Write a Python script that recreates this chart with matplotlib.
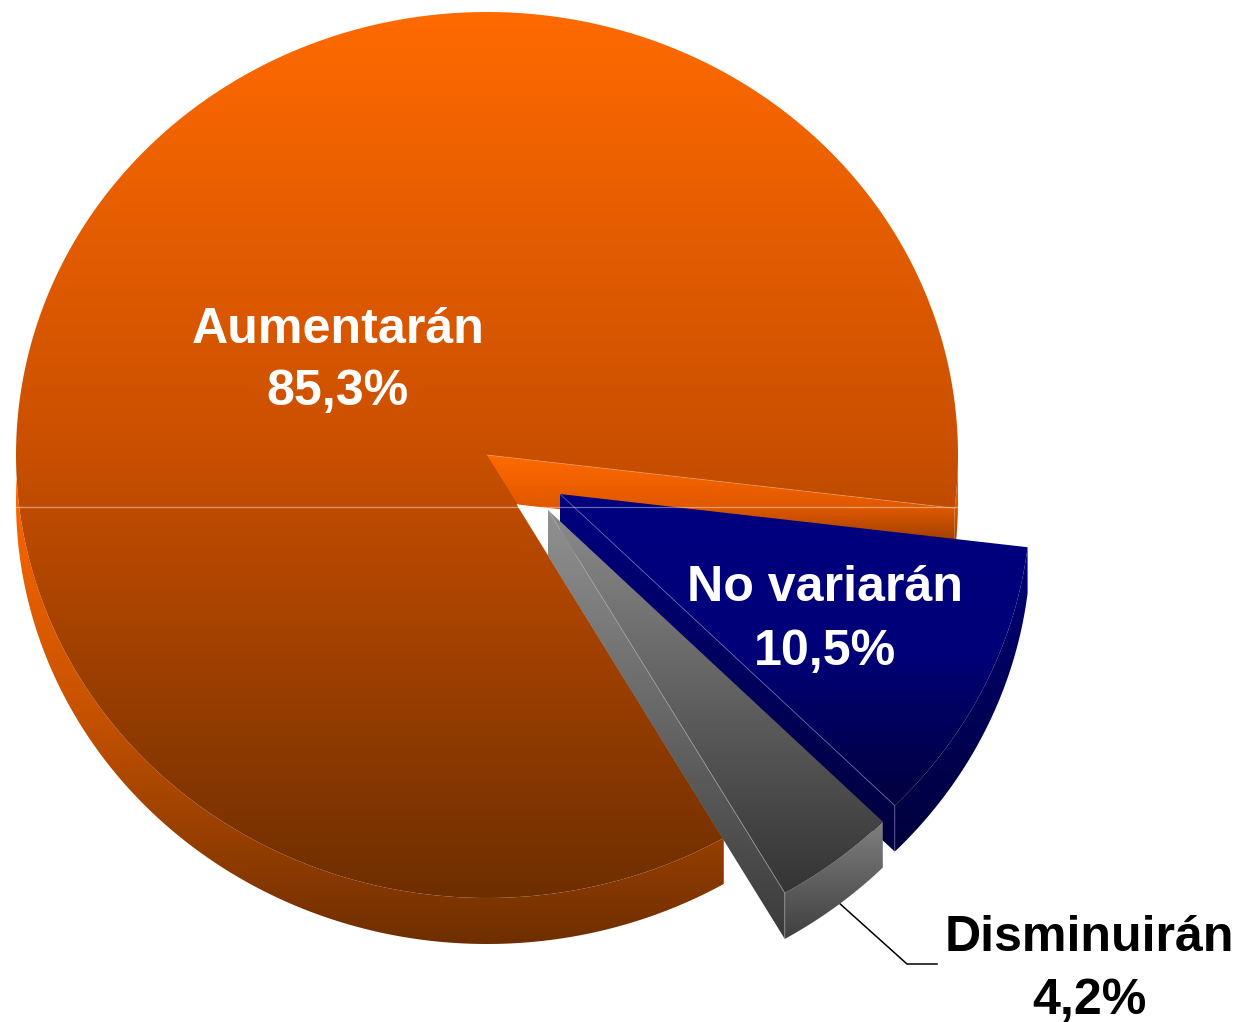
import numpy as np
import matplotlib
matplotlib.use("Agg")
import matplotlib.pyplot as plt
from matplotlib.colors import LinearSegmentedColormap
from matplotlib.patches import Polygon

# data
categories = ["Aumentarán", "No variarán", "Disminuirán"]
values = [85.3, 10.5, 4.2]
value_labels = ["85,3%", "10,5%", "4,2%"]

# geometry (pixels)
W, H = 1241, 1022
CX, CY, RX, RY = 487.0, 455.0, 471.0, 443.0
DEPTH = 46.0
START = -6.9
BLUE_SHIFT = (73.0, 39.0)
GREY_SHIFT = (61.0, 55.0)

plt.rcParams["font.family"] = ["Liberation Sans", "DejaVu Sans"]
fig = plt.figure(figsize=(W / 100, H / 100), dpi=100, facecolor="white")
ax = fig.add_axes([0, 0, 1, 1])
ax.set_axis_off()


def pt(t, shift=(0.0, 0.0), dy=0.0):
    r = np.radians(t)
    return np.array([CX + shift[0] + RX * np.cos(r), CY + shift[1] + dy - RY * np.sin(r)])


def arc(a, b, shift=(0.0, 0.0), dy=0.0):
    return np.array([pt(t, shift, dy) for t in np.linspace(a, b, 300)])


def grad(poly, y0, y1, stops, z):
    cmap = LinearSegmentedColormap.from_list("g", stops)
    poly = np.asarray(poly)
    patch = Polygon(poly, closed=True, transform=ax.transData, facecolor="none", edgecolor="none")
    ax.add_patch(patch)
    im = ax.imshow(np.linspace(0, 1, 512)[:, None], extent=(poly[:, 0].min() - 1, poly[:, 0].max() + 1, y1, y0),
                   cmap=cmap, aspect="auto", interpolation="bilinear", zorder=z, origin="upper")
    im.set_clip_path(patch)


def span(apex, ends):
    return np.vstack([apex, ends])


# slice angles from the values
orange_sweep = values[0] * 3.6
blue_sweep = values[1] * 3.6
grey_sweep = values[2] * 3.6
o0, o1 = START, START + orange_sweep          # orange runs counter-clockwise
b1, b0 = START, START - blue_sweep            # blue just below the start
g1, g0 = b0, b0 - grey_sweep                  # grey below blue

# ---------- orange ----------
apex = np.array([CX, CY])
down = np.array([0.0, DEPTH])
wall = np.array([apex, pt(o0), pt(o0) + down, apex + down])
grad(wall, 455, 560, ["#ff6a00", "#e05800", "#7a3200"], 1)
rim_r = np.vstack([arc(o0, 0.0), arc(0.0, o0, dy=DEPTH)])
grad(rim_r, 455, 560, ["#ff6a00", "#e05800", "#7a3200"], 1)
rim = np.vstack([arc(170, o1 % 360), arc(o1 % 360, 170, dy=DEPTH)])
grad(rim, 480, 946, ["#ff6800", "#c65200", "#6e2e00"], 2)
top = span(apex, arc(o0, o1))
grad(top, 12, 900, ["#ff6a00", "#c94f00", "#6e2e00"], 3)
ax.plot(*zip(apex, pt(o0)), color="#ffb080", lw=0.7, alpha=0.4, zorder=3.5)

# ---------- blue ----------
bapex = apex + BLUE_SHIFT
rim = np.vstack([arc(b0, b1, BLUE_SHIFT), arc(b1, b0, BLUE_SHIFT, DEPTH)])
grad(rim, 494, 851, ["#000080", "#00003c"], 4)
wall = np.array([bapex, pt(b0, BLUE_SHIFT), pt(b0, BLUE_SHIFT) + down, bapex + down])
grad(wall, 494, 851, ["#000080", "#00003c"], 4)
top = span(bapex, arc(b0, b1, BLUE_SHIFT))
grad(top, 494, 808, ["#000080", "#000078", "#00003c"], 5)
ax.plot(*zip(bapex, pt(b0, BLUE_SHIFT), pt(b0, BLUE_SHIFT) + down), color="#8080c8", lw=0.7, alpha=0.55, zorder=5.5)

# ---------- grey ----------
gapex = apex + GREY_SHIFT
wall = np.array([gapex, pt(g0, GREY_SHIFT), pt(g0, GREY_SHIFT) + down, gapex + down])
grad(wall, 505, 940, ["#929292", "#3a3a3a"], 6)
rim = np.vstack([arc(g0, g1, GREY_SHIFT), arc(g1, g0, GREY_SHIFT, DEPTH)])
grad(rim, 820, 940, ["#808080", "#3f3f3f"], 6)
top = span(gapex, arc(g0, g1, GREY_SHIFT))
grad(top, 505, 897, ["#8c8c8c", "#333333"], 7)
ax.plot(*zip(gapex, pt(g0, GREY_SHIFT), pt(g0, GREY_SHIFT) + down), color="#a8a8a8", lw=0.6, alpha=0.7, zorder=7.5)

# white gap along the lower orange edge, below the wall
edge_end = pt(o1 % 360)
edge_start = apex + (edge_end - apex) * (DEPTH + 4) / (edge_end[1] - apex[1])
ax.plot(*zip(edge_start, edge_end), color="white", lw=1.3, zorder=5.8)

# light seam across the pie
ax.plot([15, 958], [507.5, 507.5], color="white", lw=0.9, alpha=0.42, zorder=9)

# leader
ax.plot([838, 907, 937], [902, 964, 964], color="black", lw=1.1, zorder=3, solid_joinstyle="miter")

# labels
FS = 36.1
kw = dict(fontsize=FS, fontweight="bold", ha="center", va="baseline", zorder=10)
ax.text(338, 343, categories[0], color="white", **kw)
ax.text(338, 405, value_labels[0], color="white", **kw)
ax.text(825, 601, categories[1], color="white", **kw)
ax.text(825, 665, value_labels[1], color="white", **kw)
ax.text(1089, 951, categories[2], color="black", **kw)
ax.text(1089, 1014, value_labels[2], color="black", **kw)

ax.set_xlim(0, W)
ax.set_ylim(H, 0)
fig.savefig("out.png", dpi=100, facecolor="white")
